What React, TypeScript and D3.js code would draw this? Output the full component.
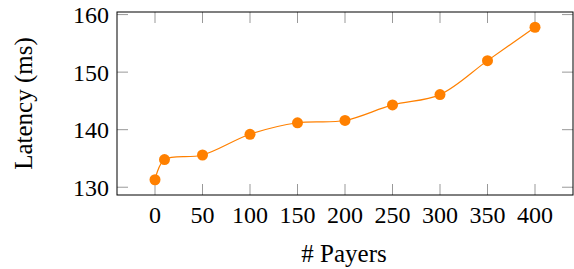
import { useEffect, useRef } from 'react'
import * as d3 from 'd3'

const payers = [0, 10, 50, 100, 150, 200, 250, 300, 350, 400]
const latency = [131.3, 134.8, 135.6, 139.2, 141.2, 141.6, 144.3, 146.1, 152.0, 157.8]
const xTicks = [0, 50, 100, 150, 200, 250, 300, 350, 400]
const yTicks = [130, 140, 150, 160]

const ORANGE = '#ff8000'
const FONT = 'Liberation Serif, DejaVu Serif, serif'

export default function App() {
  const ref = useRef<SVGSVGElement>(null)

  useEffect(() => {
    if (!ref.current) return
    const svg = d3.select(ref.current)
    svg.selectAll('*').remove()

    const width = 574
    const height = 269
    const m = { top: 12, right: 1, bottom: 74, left: 117 }
    const innerW = width - m.left - m.right
    const innerH = height - m.top - m.bottom

    // pgfplots style: 10% enlargement of limits
    const xr = d3.extent(payers) as [number, number]
    const yr = d3.extent(latency) as [number, number]
    const xPad = (xr[1] - xr[0]) * 0.1
    const yPad = (yr[1] - yr[0]) * 0.1
    const x = d3.scaleLinear().domain([xr[0] - xPad, xr[1] + xPad]).range([0, innerW])
    const y = d3.scaleLinear().domain([yr[0] - yPad, yr[1] + yPad]).range([innerH, 0])

    const g = svg.append('g').attr('transform', `translate(${m.left},${m.top})`)
    const tickLen = 11

    // tick marks, inward, mirrored on opposite sides
    xTicks.forEach((t) => {
      g.append('line').attr('x1', x(t)).attr('x2', x(t)).attr('y1', innerH).attr('y2', innerH - tickLen)
        .attr('stroke', '#999').attr('stroke-width', 1)
      g.append('line').attr('x1', x(t)).attr('x2', x(t)).attr('y1', 0).attr('y2', tickLen)
        .attr('stroke', '#999').attr('stroke-width', 1)
      g.append('text').attr('x', x(t)).attr('y', innerH + 28)
        .attr('text-anchor', 'middle').style('font-family', FONT).attr('font-size', 24).attr('fill', '#000')
        .text(t)
    })
    yTicks.forEach((t) => {
      g.append('line').attr('x1', 0).attr('x2', tickLen).attr('y1', y(t)).attr('y2', y(t))
        .attr('stroke', '#999').attr('stroke-width', 1)
      g.append('line').attr('x1', innerW).attr('x2', innerW - tickLen).attr('y1', y(t)).attr('y2', y(t))
        .attr('stroke', '#999').attr('stroke-width', 1)
      g.append('text').attr('x', -8).attr('y', y(t)).attr('dy', '0.35em')
        .attr('text-anchor', 'end').style('font-family', FONT).attr('font-size', 24).attr('fill', '#000')
        .text(t)
    })

    g.append('rect').attr('width', innerW).attr('height', innerH)
      .attr('fill', 'none').attr('stroke', '#000').attr('stroke-width', 1)

    const pts = payers.map((p, i) => [p, latency[i]] as [number, number])
    const line = d3.line<[number, number]>()
      .x((d) => x(d[0]))
      .y((d) => y(d[1]))
      .curve(d3.curveCatmullRom.alpha(0.5))

    g.append('path').datum(pts).attr('d', line)
      .attr('fill', 'none').attr('stroke', ORANGE).attr('stroke-width', 1.2)

    g.selectAll('circle.pt').data(pts).join('circle')
      .attr('class', 'pt')
      .attr('cx', (d) => x(d[0]))
      .attr('cy', (d) => y(d[1]))
      .attr('r', 5.5)
      .attr('fill', ORANGE)

    svg.append('text')
      .attr('x', m.left + x(200) - 1)
      .attr('y', 262)
      .attr('text-anchor', 'middle')
      .style('font-family', FONT).attr('font-size', 25).attr('fill', '#000')
      .text('# Payers')

    svg.append('text')
      .attr('transform', `translate(32,${m.top + innerH / 2}) rotate(-90)`)
      .attr('text-anchor', 'middle')
      .style('font-family', FONT).attr('font-size', 25).attr('fill', '#000')
      .text('Latency (ms)')
  }, [])

  return (
    <svg
      ref={ref}
      width={574}
      height={269}
      style={{ position: 'fixed', left: 0, top: 0, background: '#fff' }}
    />
  )
}
